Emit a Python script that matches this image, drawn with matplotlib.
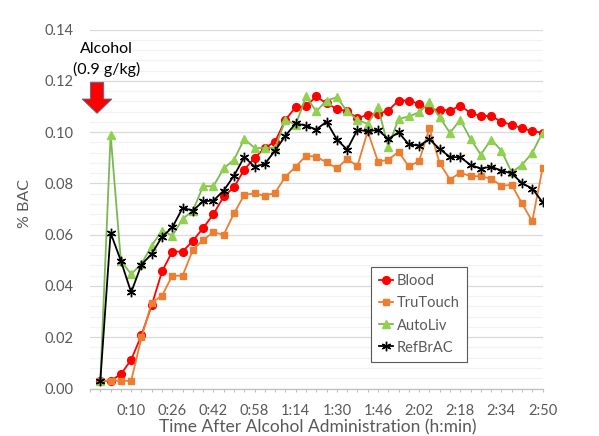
import numpy as np
import matplotlib
matplotlib.use("Agg")
import matplotlib.pyplot as plt
from matplotlib.patches import FancyArrow
from matplotlib.ticker import MultipleLocator, FixedLocator, FixedFormatter

# Valori (categorie 1..44, passo di 4 min)
categorie = np.arange(1, 45)
etichette_x = ["0:10", "0:26", "0:42", "0:58", "1:14", "1:30",
               "1:46", "2:02", "2:18", "2:34", "2:50"]
pos_etichette = [4, 8, 12, 16, 20, 24, 28, 32, 36, 40, 44]

blood = [0.003, 0.003, 0.0056, 0.0112, 0.0208, 0.0325, 0.0457, 0.0534, 0.0534, 0.0576,
         0.0626, 0.0680, 0.0749, 0.0785, 0.0854, 0.0899, 0.0938, 0.0963, 0.1048, 0.1097,
         0.1101, 0.1139, 0.1112, 0.1091, 0.1081, 0.1055, 0.1067, 0.1071, 0.1084, 0.1123,
         0.1123, 0.1110, 0.1087, 0.1088, 0.1084, 0.1103, 0.1075, 0.1062, 0.1064, 0.1040,
         0.1028, 0.1016, 0.1003, 0.0998]

trutouch = [0.003, 0.003, 0.003, 0.003, 0.0199, 0.0335, 0.0362, 0.0440, 0.0440, 0.0541,
            0.0580, 0.0609, 0.0600, 0.0683, 0.0755, 0.0761, 0.0751, 0.0764, 0.0826, 0.0865,
            0.0908, 0.0904, 0.0882, 0.0859, 0.0895, 0.0868, 0.1003, 0.0885, 0.0892, 0.0923,
            0.0866, 0.0887, 0.1015, 0.0879, 0.0815, 0.0842, 0.0828, 0.0828, 0.0818, 0.0791,
            0.0794, 0.0722, 0.0652, 0.0859]

autoliv = [0.003, 0.0990, 0.0498, 0.0446, 0.0486, 0.0557, 0.0616, 0.0596, 0.0661, 0.0694,
           0.0789, 0.0789, 0.0859, 0.0892, 0.0973, 0.0938, 0.0938, 0.0938, 0.1048, 0.1028,
           0.1139, 0.1081, 0.1123, 0.1136, 0.1081, 0.1048, 0.1032, 0.1097, 0.0943, 0.1051,
           0.1061, 0.1077, 0.1116, 0.1058, 0.0997, 0.1048, 0.0973, 0.0912, 0.0971, 0.0928,
           0.0843, 0.0872, 0.0919, 0.0998]

refbrac = [0.003, 0.0607, 0.0498, 0.0375, 0.0483, 0.0525, 0.0592, 0.0628, 0.0704, 0.0694,
           0.0730, 0.0733, 0.0772, 0.0830, 0.0903, 0.0865, 0.0876, 0.0928, 0.0986, 0.1034,
           0.1025, 0.1010, 0.1041, 0.0971, 0.0932, 0.1009, 0.1003, 0.1009, 0.0973, 0.0999,
           0.0952, 0.0947, 0.0972, 0.0934, 0.0903, 0.0902, 0.0872, 0.0858, 0.0865, 0.0850,
           0.0839, 0.0801, 0.0780, 0.0727]


def main():
    plt.rcParams['font.family'] = ['Lato', 'DejaVu Sans']
    grigio = '#595959'

    fig = plt.figure(figsize=(5.99, 4.36), dpi=100)
    ax = fig.add_axes([0.1503, 0.1089, 0.7554, 0.8234])

    # Serie
    ax.plot(categorie, blood, color='#FF0000', lw=1.3, marker='o', ms=5.6,
            label='Blood', zorder=3)
    ax.plot(categorie, trutouch, color='#ED7D31', lw=1.3, marker='s', ms=4.8,
            label='TruTouch', zorder=4)
    ax.plot(categorie, autoliv, color='#7CB851', lw=1.3, marker='^', ms=6,
            mfc='#92D050', mec='#92D050', label='AutoLiv', zorder=5)
    ax.plot(categorie, refbrac, color='black', lw=1.3, marker=(6, 2, 0), ms=6.8,
            mew=1.0, label='RefBrAC', zorder=6)

    # Assi
    ax.set_xlim(0, 44)
    ax.set_ylim(0, 0.14)
    ax.yaxis.set_major_locator(MultipleLocator(0.02))
    ax.yaxis.set_minor_locator(MultipleLocator(0.004))
    ax.set_yticklabels([f"{v:.2f}" for v in ax.get_yticks()])
    ax.xaxis.set_major_locator(FixedLocator(pos_etichette))
    ax.xaxis.set_major_formatter(FixedFormatter(etichette_x))
    ax.xaxis.set_minor_locator(MultipleLocator(1))

    ax.grid(which='major', axis='y', color='#D9D9D9', lw=0.9, zorder=0)
    ax.grid(which='minor', axis='y', color='#F2F2F2', lw=0.9, zorder=0)
    ax.set_axisbelow(True)

    for lato in ['top', 'right', 'left']:
        ax.spines[lato].set_visible(False)
    ax.spines['bottom'].set_color('#BFBFBF')
    ax.spines['bottom'].set_linewidth(0.9)

    ax.tick_params(axis='x', which='both', length=2.5, width=0.8, color='#BFBFBF',
                   direction='out', labelsize=10.5, labelcolor=grigio, pad=8.5)
    ax.tick_params(axis='y', which='both', length=0, labelsize=10.5,
                   labelcolor=grigio, pad=12)

    ax.set_xlabel("Time After Alcohol Administration (h:min)", fontsize=12.5, color=grigio)
    ax.set_ylabel("% BAC", fontsize=11.5, color=grigio)
    ax.xaxis.set_label_coords(0.503, -0.109)
    ax.xaxis.label.set_va('center')
    ax.yaxis.set_label_coords(-0.144, 0.515)
    ax.yaxis.label.set_va('center')

    # Annotazione somministrazione
    ax.text(1.6, 0.1283, "Alcohol\n(0.9 g/kg)", ha='center', va='center',
            fontsize=11.5, color='black', linespacing=1.45)
    freccia = FancyArrow(0.68, 0.1194, 0, -0.0121, width=1.3, head_width=2.9,
                         head_length=0.0056, length_includes_head=True,
                         facecolor='#FF0000', edgecolor='#41719C', lw=0.6,
                         zorder=7, clip_on=False)
    ax.add_patch(freccia)

    leg = ax.legend(loc='upper left', bbox_to_anchor=(0.622, 0.338), fontsize=10.5,
                    frameon=True, fancybox=False, edgecolor=grigio, framealpha=1,
                    handlelength=1.0, handletextpad=0.25, labelspacing=0.55,
                    borderpad=0.5, borderaxespad=0)
    leg.get_frame().set_linewidth(0.8)
    for t in leg.get_texts():
        t.set_color(grigio)

    fig.savefig("out.png", dpi=100)


if __name__ == "__main__":
    main()
